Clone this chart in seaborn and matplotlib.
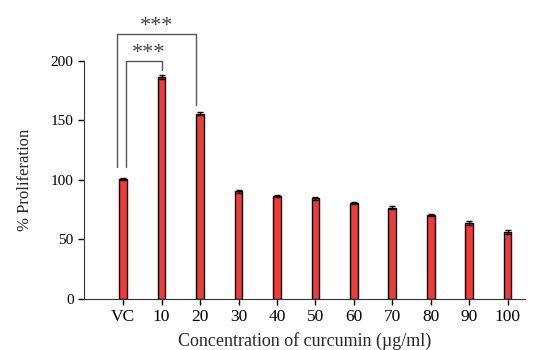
import matplotlib
matplotlib.use("Agg")
import matplotlib.pyplot as plt
import seaborn as sns
import numpy as np

categories = ["VC", "10", "20", "30", "40", "50", "60", "70", "80", "90", "100"]
proliferation = [100.5, 186.5, 155.5, 90.5, 86.5, 84.5, 80.5, 76.8, 70.5, 63.5, 56.5]
errors = [1.0, 1.5, 1.2, 1.2, 1.0, 1.0, 1.0, 1.2, 1.0, 1.8, 1.8]
y_ticks = [0, 50, 100, 150, 200]

sns.set_style("ticks")
plt.rcParams['font.family'] = ['Liberation Serif', 'DejaVu Serif']

fig = plt.figure(figsize=(5.35, 3.5), dpi=100)
ax = fig.add_axes([0.157, 0.146, 0.824, 0.68])

sns.barplot(x=categories, y=proliferation, width=0.2, color="#EE3B3B",
            edgecolor="black", linewidth=1.0, saturation=1, ax=ax)
ax.errorbar(np.arange(len(categories)), proliferation, yerr=errors, fmt="none",
            ecolor="black", elinewidth=1, capsize=2.5, capthick=1)

ax.set_ylim(0, 200)
ax.set_xlim(-1.02, 10.45)
ax.set_yticks(y_ticks)
ax.set_yticklabels([str(t) for t in y_ticks])
ax.tick_params(axis="both", direction="out", length=4, width=1, colors="black")
ax.tick_params(axis="y", labelsize=11)
ax.tick_params(axis="x", labelsize=12.5, pad=3)
ax.spines["top"].set_visible(False)
ax.spines["right"].set_visible(False)
ax.spines["left"].set_color("#333333")
ax.spines["bottom"].set_color("#333333")

ax.set_xlabel("Concentration of curcumin (µg/ml)", fontsize=13, labelpad=5)
ax.set_ylabel("% Proliferation", fontsize=12, labelpad=13)

# significance brackets
lc = "#555555"
ax.plot([-0.16, -0.16, 1.9, 1.9], [111, 223, 223, 163], color=lc, lw=1, clip_on=False)
ax.plot([0.07, 0.07, 1.0, 1.0], [111, 199.5, 199.5, 192.5], color=lc, lw=1, clip_on=False)
ax.text(0.86, 229, "***", ha="center", va="center", fontsize=16, color="#444444", clip_on=False)
ax.text(0.66, 206, "***", ha="center", va="center", fontsize=16, color="#444444", clip_on=False)

fig.savefig("out.png", dpi=100)
